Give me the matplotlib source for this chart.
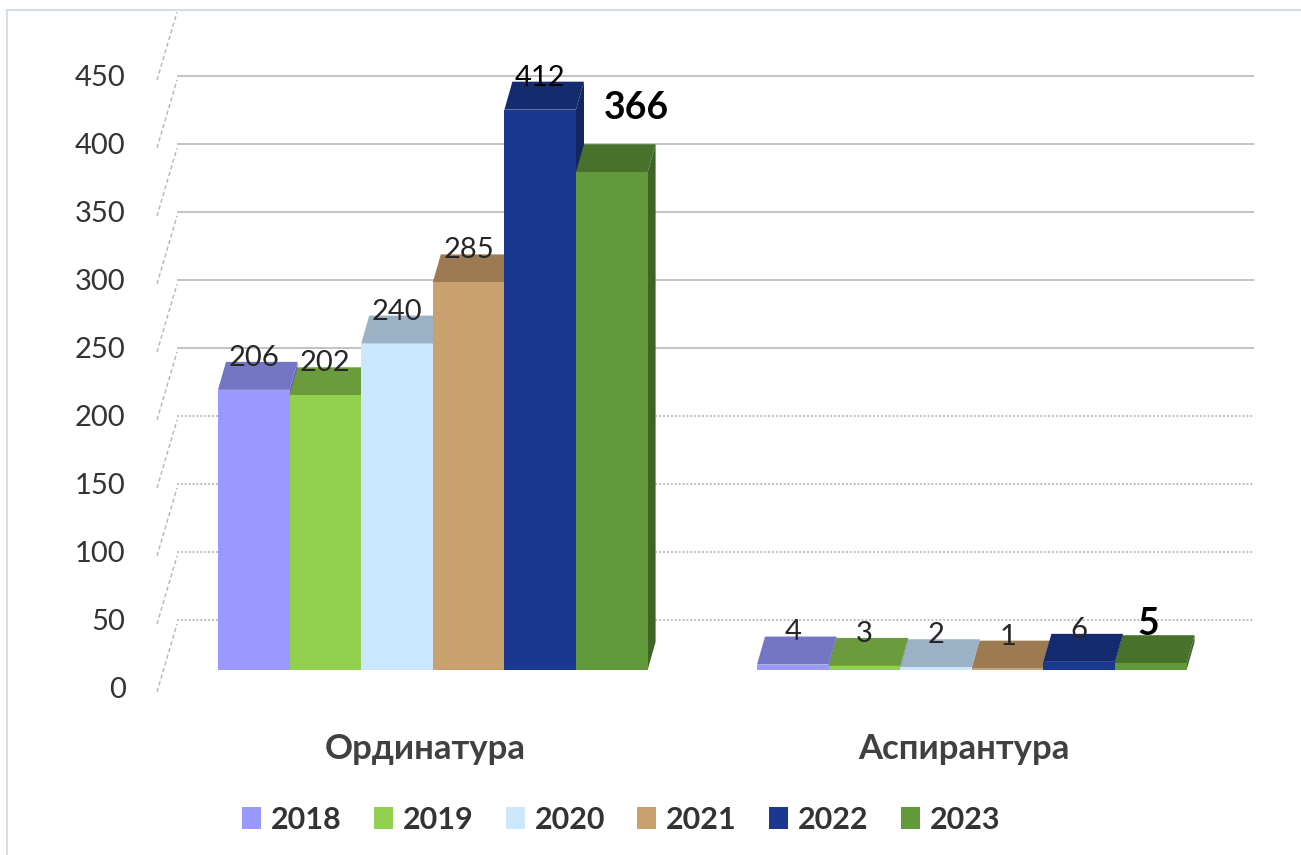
import matplotlib
matplotlib.use("Agg")
import matplotlib.pyplot as plt
from matplotlib.patches import Polygon, Patch
from matplotlib.lines import Line2D

# data
years = ['2018', '2019', '2020', '2021', '2022', '2023']
categories = ['Ординатура', 'Аспирантура']
ordinatura = [206, 202, 240, 285, 412, 366]
aspirantura = [4, 3, 2, 1, 6, 5]
y_ticks = [0, 50, 100, 150, 200, 250, 300, 350, 400, 450]

front_colors = ['#9999FF', '#92D050', '#CCE8FF', '#C9A16E', '#1B3891', '#61993B']
top_colors = ['#7575C6', '#6C9B3D', '#9BB1C5', '#9C7A52', '#142B6F', '#48722C']
side_colors = ['#6565AE', '#5E8834', '#8A9FB2', '#8A6B47', '#122760', '#3F6526']

plt.rcParams['font.family'] = ['Lato', 'DejaVu Sans']

W, H = 1301, 855
fig = plt.figure(figsize=(W / 100, H / 100), dpi=100)

# layout in pixels (pseudo 3d like the excel chart)
px_per_unit = 1.36
bar_px = 71.6
first_bar_px = 218
base_px = 670
left_px, right_px = 177, 1254
ylo, yhi = -20, 490
bot_px = base_px - ylo * px_per_unit
top_px = base_px - yhi * px_per_unit

ax = fig.add_axes([left_px / W, (H - bot_px) / H,
                   (right_px - left_px) / W, (bot_px - top_px) / H])
ax.set_xlim((left_px - first_bar_px) / bar_px, (right_px - first_bar_px) / bar_px)
ax.set_ylim(ylo, yhi)
for s in ax.spines.values():
    s.set_visible(False)

dx = 8 / bar_px          # depth offset
dy = 28 / px_per_unit
wall = -13.2             # back wall is drawn a bit lower than the bars

# back wall gridlines
for v in y_ticks[1:]:
    if v >= 250:
        ax.axhline(v + wall, color='#c3c3c3', lw=1.4, zorder=1)
    else:
        ax.axhline(v + wall, color='#bdbdbd', lw=1.4, ls=(0, (1, 1)), zorder=1)

# slanted axis pieces at the left
xa = (157 - first_bar_px) / bar_px
xb = (left_px - first_bar_px) / bar_px
for v in y_ticks:
    ax.plot([xa, xb], [v + wall - 3, v + wall + 47], color='#b5b5b5', lw=1.0,
            ls=(0, (3, 2)), clip_on=False, zorder=1)

ax.set_yticks([v + wall for v in y_ticks])
ax.set_yticklabels([str(v) for v in y_ticks])
ax.tick_params(axis='y', length=0, pad=37, labelsize=21, labelcolor='#333333')

group_starts = [0, (757 - first_bar_px) / bar_px]
series = [ordinatura, aspirantura]

for g, (start, vals) in enumerate(zip(group_starts, series)):
    for i, h in enumerate(vals):
        x0 = start + i
        x1 = x0 + 1
        z = 2 + g + i * 0.1
        side = Polygon([(x1, 0), (x1, h), (x1 + dx, h + dy), (x1 + dx, dy)],
                       closed=True, facecolor=side_colors[i], edgecolor='none', zorder=z)
        ax.add_patch(side)
        top = Polygon([(x0, h), (x1, h), (x1 + dx, h + dy), (x0 + dx, h + dy)],
                      closed=True, facecolor=top_colors[i], edgecolor='none', zorder=z + 0.01)
        ax.add_patch(top)
        ax.bar(x0, h, width=1, align='edge', color=front_colors[i], zorder=z + 0.02)
        if i == len(vals) - 1:
            # last year is highlighted
            if g == 0:
                lx, ly = x0 + 0.5 + 0.34, h + dy + 26.5
            else:
                lx, ly = x0 + 0.5 - 0.04, h + dy + 8.5
            ax.text(lx, ly, str(h), ha='center', va='center', fontsize=27,
                    fontweight='bold', color='black', zorder=10)
        else:
            col = 'black' if h == 412 else '#262626'
            ax.text(x0 + 0.5, h + dy + 3, str(h), ha='center', va='center',
                    fontsize=21, color=col, zorder=10)

ax.set_xticks([s + 3 - 0.11 for s in group_starts])
ax.set_xticklabels(categories)
ax.tick_params(axis='x', length=0, pad=26, labelsize=25, labelcolor='#404040')
for lab in ax.get_xticklabels():
    lab.set_fontweight('bold')

handles = [Patch(facecolor=c, edgecolor='none') for c in front_colors]
leg = fig.legend(handles, years, loc='center', bbox_to_anchor=(621 / W, (H - 820) / H),
                 ncol=6, frameon=False, fontsize=22, handlelength=0.62, handleheight=0.72,
                 handletextpad=0.33, columnspacing=1.05)
for t in leg.get_texts():
    t.set_fontweight('bold')
    t.set_color('#333333')

# thin frame of the chart area
fig.add_artist(Line2D([7 / W, 7 / W], [0, (H - 10) / H], color='#d6dce8', lw=1.5))
fig.add_artist(Line2D([7 / W, 1], [(H - 10) / H, (H - 10) / H], color='#d6dce8', lw=1.5))

fig.savefig('out.png', dpi=100)
